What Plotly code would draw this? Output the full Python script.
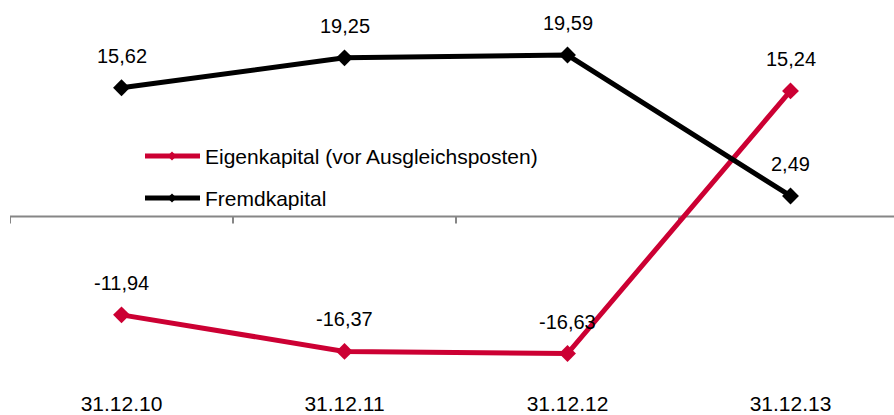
import plotly.graph_objects as go

# Balance-sheet figures in Mio. EUR per reporting date
dates = ["31.12.10", "31.12.11", "31.12.12", "31.12.13"]
eigenkapital = [-11.94, -16.37, -16.63, 15.24]
fremdkapital = [15.62, 19.25, 19.59, 2.49]

series_names = ["Eigenkapital (vor Ausgleichsposten)", "Fremdkapital"]
series_colors = ["#CC0033", "#000000"]
series_values = [eigenkapital, fremdkapital]

W, H = 894, 415
M_L, M_R, M_T, M_B = 10, 0, 10, 23
PLOT_W = W - M_L - M_R
PLOT_H = H - M_T - M_B
FONT = "Liberation Sans, Arial, sans-serif"
X_RANGE = [-0.5, -0.5 + PLOT_W / 223.0]
Y_RANGE = [-21.30, 25.06]


def px_to_paper(px, py):
    return (px - M_L) / PLOT_W, (H - M_B - py) / PLOT_H


def fmt(v):
    return f"{v:.2f}".replace(".", ",")


fig = go.Figure()
idx = list(range(len(dates)))

for name, color, vals in zip(series_names, series_colors, series_values):
    fig.add_trace(go.Scatter(
        x=idx, y=vals, name=name, mode="lines+markers",
        line=dict(color=color, width=5),
        marker=dict(symbol="diamond", size=13, color=color),
        showlegend=False, cliponaxis=False,
    ))

annotations = []
for vals in series_values:
    for i, v in zip(idx, vals):
        annotations.append(dict(
            x=i, y=v, xref="x", yref="y", text=fmt(v), showarrow=False,
            yshift=32, xanchor="center", yanchor="middle",
            font=dict(family=FONT, size=20, color="#000000"),
        ))

shapes = []
# horizontal category axis through zero
shapes.append(dict(type="line", xref="x", yref="y", x0=X_RANGE[0], x1=X_RANGE[1] + 1,
                   y0=0, y1=0, line=dict(color="#868686", width=2), layer="below"))
# tick marks between categories
for b in [i - 0.5 for i in range(len(dates) + 1)]:
    shapes.append(dict(type="line", xref="x", yref="y", ysizemode="pixel", yanchor=0,
                       x0=b, x1=b, y0=0, y1=-7,
                       line=dict(color="#868686", width=2), layer="below"))

# legend drawn inside the plot area
legend_rows = [156, 198]
for name, color, py in zip(series_names, series_colors, legend_rows):
    x0, y0 = px_to_paper(145, py)
    x1, _ = px_to_paper(200, py)
    shapes.append(dict(type="line", xref="paper", yref="paper", x0=x0, x1=x1, y0=y0, y1=y0,
                       line=dict(color=color, width=5)))
    cx, cy = px_to_paper(172, py)
    dx = 4.5 / PLOT_W
    dy = 4.5 / PLOT_H
    shapes.append(dict(type="path", xref="paper", yref="paper",
                       path=f"M {cx - dx} {cy} L {cx} {cy + dy} L {cx + dx} {cy} L {cx} {cy - dy} Z",
                       fillcolor=color, line=dict(color=color, width=0)))
    tx, ty = px_to_paper(203, py)
    annotations.append(dict(x=tx, y=ty, xref="paper", yref="paper", text=name,
                            showarrow=False, xanchor="left", yanchor="middle",
                            font=dict(family=FONT, size=21, color="#000000")))

fig.update_layout(
    width=W, height=H,
    margin=dict(l=M_L, r=M_R, t=M_T, b=M_B, pad=0, autoexpand=False),
    paper_bgcolor="#FFFFFF", plot_bgcolor="#FFFFFF",
    showlegend=False,
    shapes=shapes, annotations=annotations,
    xaxis=dict(range=X_RANGE, tickmode="array", tickvals=idx, ticktext=dates,
               showgrid=False, zeroline=False, showline=False, ticks="",
               automargin=False, ticklabelstandoff=-3,
               tickfont=dict(family=FONT, size=21, color="#000000")),
    yaxis=dict(range=Y_RANGE, visible=False, showgrid=False, zeroline=False,
               automargin=False),
)

fig.write_html("out.html")
